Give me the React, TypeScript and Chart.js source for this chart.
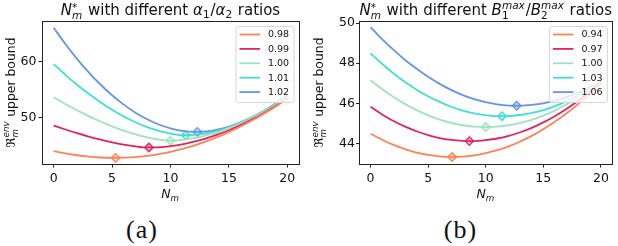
import React, { useEffect, useRef } from 'react';
import { Chart, registerables } from 'chart.js';
Chart.register(...registerables);

// ---------- data ----------
const NM = [0, 1, 2, 3, 4, 5, 6, 7, 8, 9, 10, 11, 12, 13, 14, 15, 16, 17, 18, 19, 20];
const X_TICKS = [0, 5, 10, 15, 20];

// panel (a): alpha1/alpha2 ratios
const A_LABELS = ['0.98', '0.99', '1.00', '1.01', '1.02'];
const A_098 = [43.90, 43.49, 43.17, 42.93, 42.77, 42.71, 42.73, 42.84, 43.06, 43.37, 43.79, 44.30, 44.91, 45.62, 46.43, 47.34, 48.34, 49.45, 50.65, 51.95, 53.35];
const A_099 = [48.50, 47.80, 47.14, 46.53, 45.99, 45.50, 45.09, 44.76, 44.57, 44.60, 44.81, 45.14, 45.60, 46.17, 46.87, 47.67, 48.60, 49.63, 50.78, 52.03, 53.40];
const A_100 = [53.60, 52.39, 51.26, 50.21, 49.24, 48.37, 47.60, 46.94, 46.39, 46.00, 45.80, 45.92, 46.23, 46.69, 47.30, 48.04, 48.91, 49.90, 51.02, 52.25, 53.60];
const A_101 = [59.55, 57.63, 55.85, 54.21, 52.71, 51.35, 50.15, 49.11, 48.23, 47.54, 47.04, 46.77, 46.82, 47.09, 47.55, 48.19, 48.99, 49.95, 51.07, 52.33, 53.75];
const A_102 = [66.10, 63.18, 60.50, 58.07, 55.89, 53.95, 52.27, 50.83, 49.64, 48.70, 48.01, 47.56, 47.36, 47.44, 47.78, 48.34, 49.10, 50.04, 51.16, 52.45, 53.90];
const A_OPT_N = [5.3, 8.15, 10.0, 11.3, 12.3];
const A_OPT_Y = [42.70, 44.56, 45.80, 46.76, 47.36];
const A_Y_TICKS = [50, 60];

// panel (b): B1max/B2max ratios
const B_LABELS = ['0.94', '0.97', '1.00', '1.03', '1.06'];
const B_094 = [44.49, 44.19, 43.93, 43.72, 43.55, 43.43, 43.36, 43.33, 43.35, 43.41, 43.52, 43.67, 43.86, 44.10, 44.38, 44.71, 45.08, 45.49, 45.95, 46.45, 47.00];
const B_097 = [45.83, 45.45, 45.12, 44.84, 44.61, 44.42, 44.27, 44.18, 44.13, 44.12, 44.17, 44.25, 44.38, 44.56, 44.78, 45.05, 45.36, 45.72, 46.12, 46.56, 47.05];
const B_100 = [47.15, 46.71, 46.31, 45.96, 45.66, 45.40, 45.19, 45.03, 44.91, 44.84, 44.82, 44.84, 44.91, 45.03, 45.18, 45.39, 45.64, 45.94, 46.28, 46.67, 47.10];
const B_103 = [48.49, 47.97, 47.49, 47.06, 46.68, 46.35, 46.07, 45.83, 45.64, 45.50, 45.41, 45.36, 45.37, 45.42, 45.52, 45.66, 45.86, 46.10, 46.38, 46.72, 47.10];
const B_106 = [49.80, 49.20, 48.66, 48.16, 47.72, 47.32, 46.97, 46.67, 46.41, 46.21, 46.06, 45.95, 45.89, 45.88, 45.92, 46.00, 46.13, 46.30, 46.52, 46.79, 47.10];
const B_OPT_N = [7.09, 8.58, 10.0, 11.42, 12.69];
const B_OPT_Y = [43.33, 44.12, 44.82, 45.36, 45.88];
const B_Y_TICKS = [44, 46, 48, 50];

const COLORS = ['#ff8157', '#e0245e', '#9fe2bf', '#40e0d0', '#6495ed'];

// ---------- rich text ----------
type Tok = { t?: string; it?: boolean; sub?: string; sup?: string; subIt?: boolean; supIt?: boolean };
const FAMILY = '"DejaVu Sans", sans-serif';

const TITLE_A: Tok[] = [
  { t: 'N', it: true }, { sub: 'm', subIt: true, sup: '*' }, { t: ' with different ' },
  { t: 'α', it: true }, { sub: '1' }, { t: '/' }, { t: 'α', it: true }, { sub: '2' }, { t: ' ratios' },
];
const TITLE_B: Tok[] = [
  { t: 'N', it: true }, { sub: 'm', subIt: true, sup: '*' }, { t: ' with different ' },
  { t: 'B', it: true }, { sub: '1', sup: 'max', supIt: true }, { t: '/' },
  { t: 'B', it: true }, { sub: '2', sup: 'max', supIt: true }, { t: ' ratios' },
];
const Y_LABEL: Tok[] = [{ t: 'ℜ' }, { sub: 'm', subIt: true, sup: 'env', supIt: true }, { t: ' upper bound' }];
const X_LABEL: Tok[] = [{ t: 'N', it: true }, { sub: 'm', subIt: true }];

function fontStr(size: number, it?: boolean) {
  return `${it ? 'italic ' : ''}${size}px ${FAMILY}`;
}
function tokWidth(ctx: CanvasRenderingContext2D, tok: Tok, size: number) {
  if (tok.t !== undefined) {
    ctx.font = fontStr(size, tok.it);
    return ctx.measureText(tok.t).width;
  }
  const s = size * 0.7;
  let w = 0;
  if (tok.sub) { ctx.font = fontStr(s, tok.subIt); w = Math.max(w, ctx.measureText(tok.sub).width); }
  if (tok.sup) { ctx.font = fontStr(s, tok.supIt); w = Math.max(w, ctx.measureText(tok.sup).width); }
  return w + size * 0.06;
}
function drawRich(ctx: CanvasRenderingContext2D, toks: Tok[], x: number, y: number, size: number) {
  const widths = toks.map((t) => tokWidth(ctx, t, size));
  const total = widths.reduce((a, b) => a + b, 0);
  let cx = x - total / 2;
  ctx.textAlign = 'left';
  ctx.textBaseline = 'alphabetic';
  ctx.fillStyle = '#111';
  toks.forEach((tok, i) => {
    if (tok.t !== undefined) {
      ctx.font = fontStr(size, tok.it);
      ctx.fillText(tok.t, cx, y);
    } else {
      const s = size * 0.7;
      if (tok.sub) {
        ctx.font = fontStr(s, tok.subIt);
        ctx.fillText(tok.sub, cx, y + size * (tok.sup ? 0.26 : 0.2));
      }
      if (tok.sup) {
        ctx.font = fontStr(s, tok.supIt);
        ctx.fillText(tok.sup, cx, y - size * (tok.sup === '*' ? 0.3 : 0.42));
      }
    }
    cx += widths[i];
  });
}

function withAlpha(hex: string, a: number) {
  const r = parseInt(hex.slice(1, 3), 16), g = parseInt(hex.slice(3, 5), 16), b = parseInt(hex.slice(5, 7), 16);
  return `rgba(${r},${g},${b},${a})`;
}

type PanelProps = {
  left: number;
  series: number[][];
  labels: string[];
  optN: number[];
  optY: number[];
  yMin: number;
  yMax: number;
  yTicks: number[];
  title: Tok[];
  yAxisWidth: number;
  padRight: number;
  yTickLen: number;
  yTickPad: number;
  yLabelX: number;
};

const W = 309;
const H = 205;

function Panel(p: PanelProps) {
  const ref = useRef<HTMLCanvasElement | null>(null);
  useEffect(() => {
    const canvas = ref.current;
    if (!canvas) return;
    const datasets: any[] = p.series.map((vals, i) => ({
      label: p.labels[i],
      data: NM.map((n, j) => ({ x: n, y: vals[j] })),
      borderColor: COLORS[i],
      backgroundColor: COLORS[i],
      borderWidth: 1.8,
      pointRadius: 0,
      cubicInterpolationMode: 'monotone',
      fill: false,
    }));
    datasets.push({
      label: '_opt',
      data: p.optN.map((n, i) => ({ x: n, y: p.optY[i] })),
      showLine: false,
      pointStyle: 'rectRot',
      pointRadius: 4.3,
      pointBorderWidth: 1.3,
      pointBorderColor: COLORS,
      pointBackgroundColor: COLORS.map((c) => withAlpha(c, 0.35)),
      borderColor: 'rgba(0,0,0,0)',
      backgroundColor: 'rgba(0,0,0,0)',
    });

    const decor = {
      id: 'decor',
      beforeDatasetsDraw(chart: any) {
        const { ctx, chartArea: a } = chart;
        ctx.save();
        ctx.strokeStyle = '#222';
        ctx.lineWidth = 1;
        ctx.strokeRect(Math.round(a.left) + 0.5, Math.round(a.top) + 0.5, Math.round(a.right - a.left), Math.round(a.bottom - a.top));
        ctx.restore();
      },
      afterDatasetsDraw(chart: any) {
        const { ctx, chartArea: a } = chart;
        // legend
        const fs = 9.5;
        const bw = 58, bh = 76;
        const bx = a.right - 5.5 - bw, by = a.top + 5;
        ctx.save();
        ctx.beginPath();
        ctx.roundRect(bx + 0.5, by + 0.5, bw, bh, 2.5);
        ctx.fillStyle = 'rgba(255,255,255,0.8)';
        ctx.fill();
        ctx.strokeStyle = '#d6d6d6';
        ctx.lineWidth = 1;
        ctx.stroke();
        const dsList = chart.data.datasets.slice(0, p.labels.length);
        dsList.forEach((ds: any, i: number) => {
          const yy = by + 8.5 + i * 14.4;
          ctx.strokeStyle = ds.borderColor;
          ctx.lineWidth = 1.8;
          ctx.beginPath();
          ctx.moveTo(bx + 4, yy);
          ctx.lineTo(bx + 24.5, yy);
          ctx.stroke();
          ctx.fillStyle = '#111';
          ctx.font = `${fs}px ${FAMILY}`;
          ctx.textAlign = 'left';
          ctx.textBaseline = 'middle';
          ctx.fillText(ds.label, bx + 32.5, yy + 0.5);
        });
        ctx.restore();
      },
      afterDraw(chart: any) {
        const { ctx, chartArea: a } = chart;
        ctx.save();
        const cx = (a.left + a.right) / 2;
        drawRich(ctx, p.title, cx, 15, 15);
        drawRich(ctx, X_LABEL, cx, 198, 12.5);
        ctx.translate(p.yLabelX, (a.top + a.bottom) / 2);
        ctx.rotate(-Math.PI / 2);
        drawRich(ctx, Y_LABEL, 0, 0, 12.4);
        ctx.restore();
      },
    };

    const tickFont = { family: FAMILY, size: 12.5 };
    const chart = new Chart(canvas, {
      type: 'line',
      data: { datasets },
      options: {
        animation: false,
        responsive: false,
        maintainAspectRatio: false,
        events: [],
        layout: { padding: { top: 21, right: p.padRight, left: 0, bottom: 0 } },
        plugins: { legend: { display: false }, tooltip: { enabled: false }, title: { display: false } },
        scales: {
          x: {
            type: 'linear',
            min: -1,
            max: 21,
            afterBuildTicks: (axis: any) => { axis.ticks = X_TICKS.map((v) => ({ value: v })); },
            afterFit: (s: any) => { s.height = H - 164; },
            grid: { drawOnChartArea: false, drawTicks: true, tickLength: 3.5, tickColor: '#222', lineWidth: 1 },
            border: { display: false },
            ticks: { font: tickFont, color: '#111', padding: 3.5, maxRotation: 0, autoSkip: false, callback: (v: any) => String(v) },
          },
          y: {
            type: 'linear',
            min: p.yMin,
            max: p.yMax,
            afterBuildTicks: (axis: any) => { axis.ticks = p.yTicks.map((v) => ({ value: v })); },
            afterFit: (s: any) => { s.width = p.yAxisWidth; },
            grid: { drawOnChartArea: false, drawTicks: true, tickLength: p.yTickLen, tickColor: '#222', lineWidth: 1 },
            border: { display: false },
            ticks: { font: tickFont, color: '#111', padding: p.yTickPad, autoSkip: false, callback: (v: any) => String(v) },
          },
        },
      } as any,
      plugins: [decor],
    });
    return () => chart.destroy();
  }, []);
  return (
    <canvas
      ref={ref}
      width={W}
      height={H}
      style={{ position: 'absolute', left: p.left, top: 0, width: W, height: H }}
    />
  );
}

const captionStyle: React.CSSProperties = {
  position: 'absolute',
  top: 214,
  width: 100,
  textAlign: 'center',
  fontFamily: '"Liberation Serif", serif',
  fontSize: 26,
  lineHeight: '32px',
  letterSpacing: 1,
  color: '#111',
};

export default function App() {
  return (
    <div style={{ position: 'absolute', left: 0, top: 0, width: 618, height: 246, background: '#fff', overflow: 'hidden' }}>
      <Panel
        left={0}
        series={[A_098, A_099, A_100, A_101, A_102]}
        labels={A_LABELS}
        optN={A_OPT_N}
        optY={A_OPT_Y}
        yMin={41.6}
        yMax={67.3}
        yTicks={A_Y_TICKS}
        title={TITLE_A}
        yAxisWidth={42}
        padRight={10}
        yTickLen={3.5}
        yTickPad={2}
        yLabelX={14.5}
      />
      <Panel
        left={309}
        series={[B_094, B_097, B_100, B_103, B_106]}
        labels={B_LABELS}
        optN={B_OPT_N}
        optY={B_OPT_Y}
        yMin={42.98}
        yMax={50.1}
        yTicks={B_Y_TICKS}
        title={TITLE_B}
        yAxisWidth={50}
        padRight={0.5}
        yTickLen={3}
        yTickPad={1}
        yLabelX={14}
      />
      <div style={{ ...captionStyle, left: 142 - 50 }}>(a)</div>
      <div style={{ ...captionStyle, left: 460.5 - 50 }}>(b)</div>
    </div>
  );
}
